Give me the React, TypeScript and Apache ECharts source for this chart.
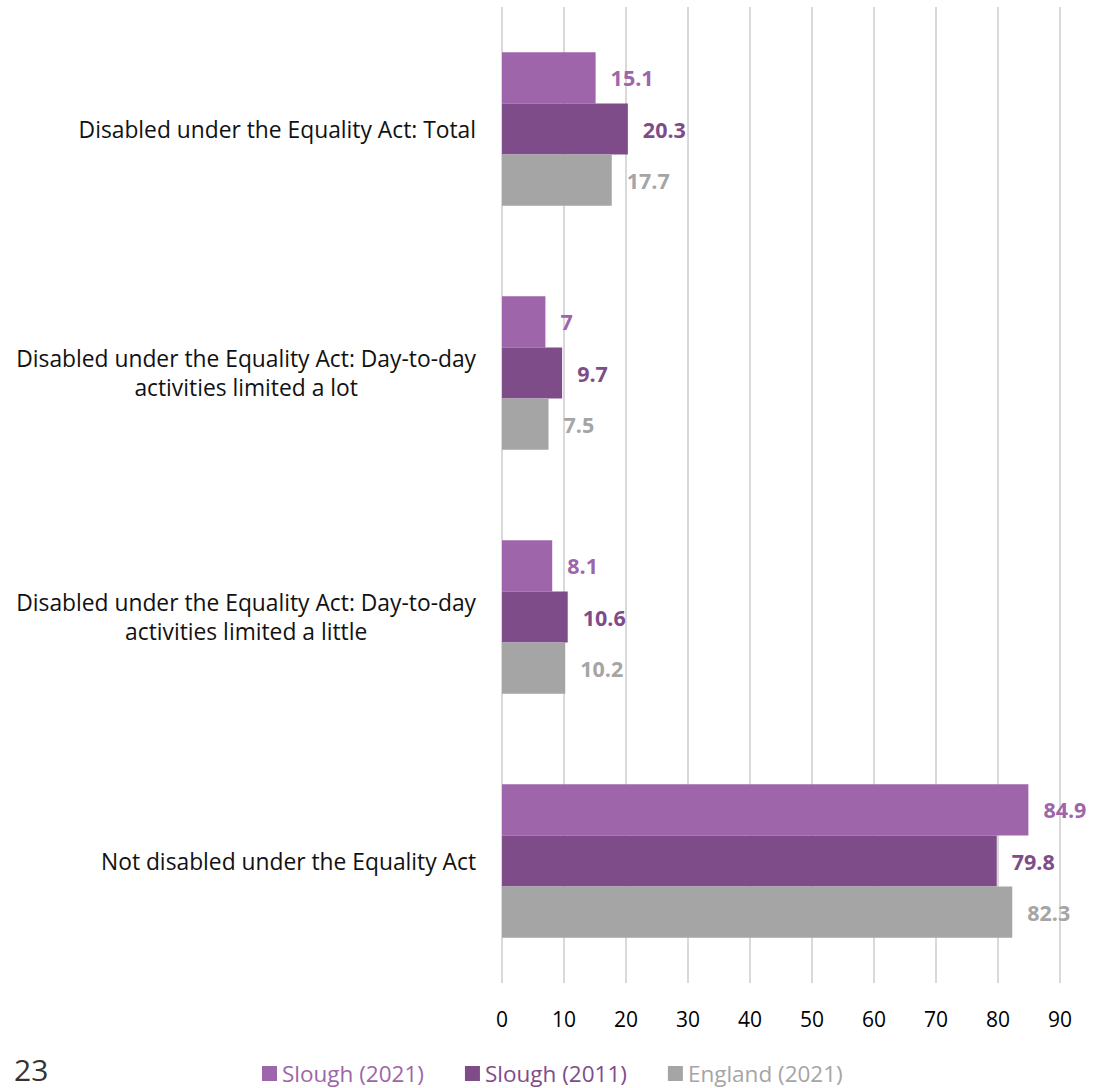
import React, { useEffect, useRef } from "react";
import * as echarts from "echarts";

const categories = [
  "Disabled under the Equality Act: Total",
  "Disabled under the Equality Act: Day-to-day\nactivities limited a lot",
  "Disabled under the Equality Act: Day-to-day\nactivities limited a little",
  "Not disabled under the Equality Act",
];
const slough2021 = [15.1, 7, 8.1, 84.9];
const slough2011 = [20.3, 9.7, 10.6, 79.8];
const england2021 = [17.7, 7.5, 10.2, 82.3];
const seriesNames = ["Slough (2021)", "Slough (2011)", "England (2021)"];
const colors = ["#9E65AA", "#7F4C8A", "#A5A5A5"];
const pageNumber = "23";

const FONT = "'Open Sans', 'Noto Sans', sans-serif";

export default function App() {
  const ref = useRef<HTMLDivElement>(null);
  useEffect(() => {
    if (!ref.current) return;
    document.body.style.margin = "0";
    document.body.style.overflow = "hidden";
    const chart = echarts.init(ref.current, undefined, { renderer: "svg" });
    const datasets = [slough2021, slough2011, england2021];
    chart.setOption({
      animation: false,
      textStyle: { fontFamily: FONT },
      grid: { left: 502, right: 34, top: 7, bottom: 105, containLabel: false },
      xAxis: {
        type: "value",
        min: 0,
        max: 90,
        interval: 10,
        axisLine: { show: false },
        axisTick: { show: false },
        splitLine: { show: true, lineStyle: { color: "#D9D9D9", width: 2 } },
        axisLabel: { color: "#000", fontSize: 21, fontFamily: FONT, margin: 25 },
      },
      yAxis: {
        type: "category",
        data: categories,
        inverse: true,
        axisLine: { show: false },
        axisTick: { show: false },
        axisLabel: {
          margin: 26,
          fontFamily: FONT,
          formatter: (v: string) =>
            v
              .split("\n")
              .map((l) => `{c|${l}}`)
              .join("\n"),
          rich: {
            c: {
              align: "center",
              fontSize: 22.8,
              color: "#111",
              lineHeight: 29,
              fontFamily: FONT,
            },
          },
        },
      },
      legend: {
        bottom: 3,
        left: 262,
        padding: 0,
        itemWidth: 15,
        itemHeight: 15,
        itemGap: 41,
        icon: "rect",
        data: seriesNames.map((n, i) => ({
          name: n,
          textStyle: { color: colors[i], fontSize: 22.5, fontFamily: FONT },
        })),
        textStyle: { fontSize: 22.5, fontFamily: FONT },
      },
      graphic: [
        {
          type: "text",
          left: 14,
          top: 1054,
          style: { text: pageNumber, fontSize: 30, fill: "#333", fontFamily: FONT },
        },
      ],
      series: datasets.map((d, i) => ({
        name: seriesNames[i],
        type: "bar",
        data: d,
        barGap: "0%",
        barCategoryGap: "37%",
        itemStyle: { color: colors[i] },
        label: {
          show: true,
          position: "right",
          distance: 15,
          color: colors[i],
          fontWeight: "bold",
          fontSize: 21.5,
          fontFamily: FONT,
        },
      })),
    });
    return () => chart.dispose();
  }, []);
  return <div ref={ref} style={{ width: 1094, height: 1088 }} />;
}
